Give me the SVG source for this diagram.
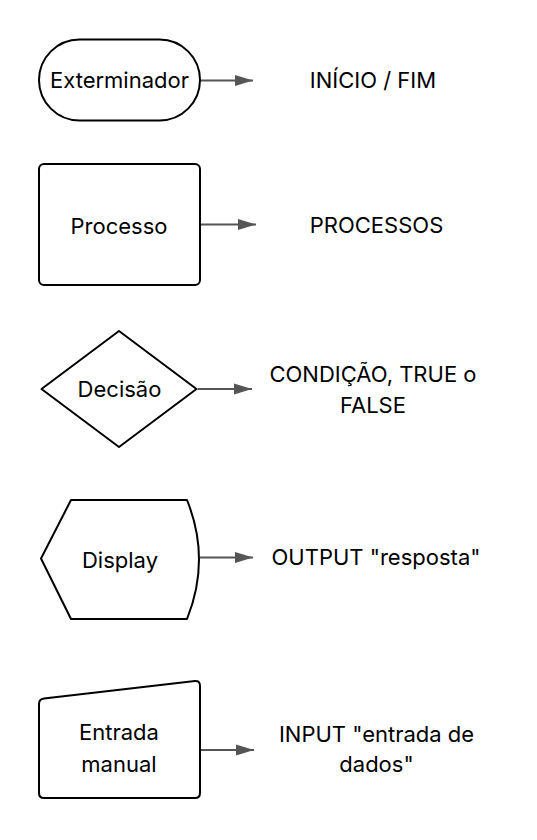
<svg xmlns="http://www.w3.org/2000/svg" width="537" height="840" viewBox="0 0 537 840">
<defs>
<style>
.shape{fill:#fff;stroke:#000;stroke-width:2;stroke-linejoin:round}
.lbl{font-family:Inter,"Liberation Sans",sans-serif;font-size:22px;fill:#000;text-anchor:middle}
.conn{stroke:#555;stroke-width:1.8;fill:none}
</style>
<marker id="arr" markerUnits="userSpaceOnUse" markerWidth="20" markerHeight="14" refX="18" refY="6" orient="auto">
<path d="M0,0.5 L18,6 L0,11.5 Z" fill="#555"/>
</marker>
</defs>
<rect width="537" height="840" fill="#fff"/>
<g id="terminador">
<rect class="shape" x="39" y="39.5" width="161" height="81" rx="40.5"/>
<text class="lbl" x="119.5" y="88.3">Exterminador</text>
</g>
<g id="processo">
<rect class="shape" x="39" y="164" width="161" height="121" rx="5"/>
<text class="lbl" x="119" y="233.7">Processo</text>
</g>
<g id="decisao">
<path class="shape" d="M41.5,389 L119,331 L196.5,389 L119,447 Z"/>
<text class="lbl" x="119.5" y="397">Decisão</text>
</g>
<g id="display">
<path class="shape" d="M71,500 L187,500 Q211,559.5 187,619 L71,619 L41,558.5 Z"/>
<text class="lbl" x="120" y="568">Display</text>
</g>
<g id="entrada">
<path class="shape" d="M44,698.5 L195,681 Q200,680.5 200,686 L200,793 Q200,798 195,798 L44,798 Q39,798 39,793 L39,704 Q39,699 44,698.5 Z"/>
<text class="lbl" x="119" y="740">Entrada</text>
<text class="lbl" x="119" y="771.5">manual</text>
</g>
<g id="t1"><text class="lbl" x="373" y="88">INÍCIO / FIM</text></g>
<g id="t2"><text class="lbl" x="376.5" y="232.5">PROCESSOS</text></g>
<g id="t3"><text class="lbl" x="373" y="381.5">CONDIÇÃO, TRUE o</text><text class="lbl" x="373" y="413">FALSE</text></g>
<g id="t4"><text class="lbl" x="376" y="565">OUTPUT "resposta"</text></g>
<g id="t5"><text class="lbl" x="376.5" y="741.5">INPUT "entrada de</text><text class="lbl" x="376.5" y="771.5">dados"</text></g>
<g id="connectors">
<line class="conn" x1="201" y1="80.5" x2="253" y2="80.5" marker-end="url(#arr)"/>
<line class="conn" x1="201" y1="224.5" x2="256" y2="224.5" marker-end="url(#arr)"/>
<line class="conn" x1="197.5" y1="389" x2="252" y2="389" marker-end="url(#arr)"/>
<line class="conn" x1="200" y1="557.5" x2="253" y2="557.5" marker-end="url(#arr)"/>
<line class="conn" x1="201" y1="750" x2="254" y2="750" marker-end="url(#arr)"/>
</g>
</svg>
